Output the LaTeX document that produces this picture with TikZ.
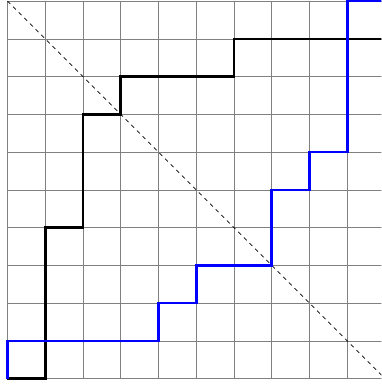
\documentclass[tikz,border=0pt]{standalone}
\begin{document}
\begin{tikzpicture}[
  gridline/.style={gray, line width=0.5pt},
  diag/.style={black, dashed, line width=0.6pt},
  blackpath/.style={black, line width=2pt, line join=miter},
  bluepath/.style={blue, line width=2pt, line join=miter}
]
\useasboundingbox (-0.198,-0.17) rectangle (9.907,10.03);
\clip (-0.198,-0.17) rectangle (9.907,10.03);
\draw[gridline] (0,0) grid (10,10);
\coordinate (d1) at (0,10);
\coordinate (d2) at (10,0);
\draw[diag] (d1) -- (d2);
\coordinate (b0) at (0,0);
\coordinate (b1) at (10,9);
\draw[blackpath] (b0) -- (1,0) -- (1,4) -- (2,4) -- (2,7) -- (3,7) -- (3,8) -- (6,8) -- (6,9) -- (b1);
\coordinate (c1) at (10,10);
\draw[bluepath] (b0) -- (0,1) -- (4,1) -- (4,2) -- (5,2) -- (5,3) -- (7,3) -- (7,5) -- (8,5) -- (8,6) -- (9,6) -- (9,10) -- (c1);
\end{tikzpicture}
\end{document}
